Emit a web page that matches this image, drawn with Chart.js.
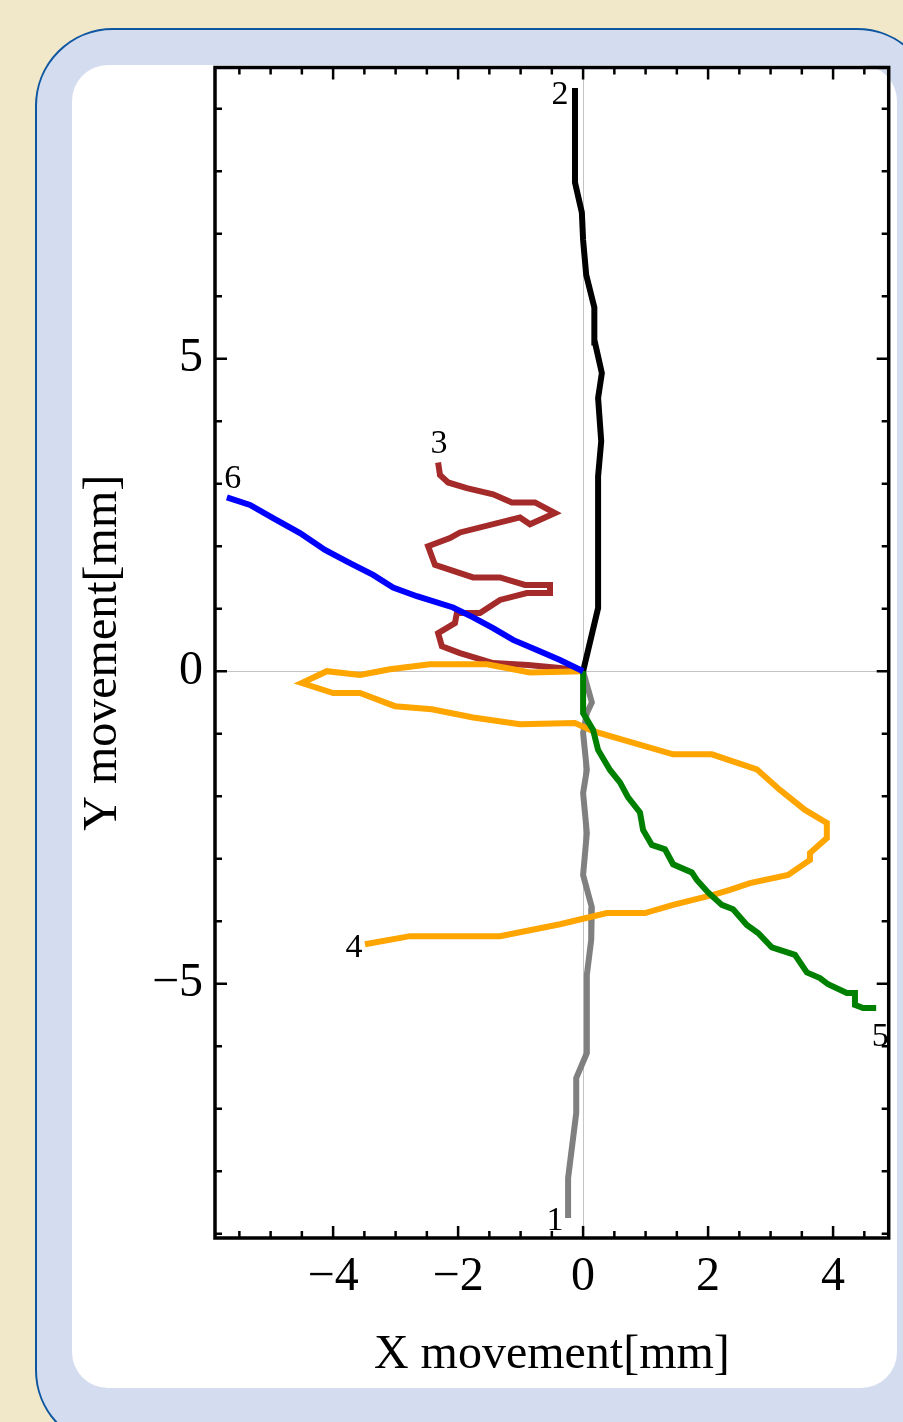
<!DOCTYPE html>
<html>
<head>
<meta charset="utf-8">
<script src="https://cdn.jsdelivr.net/npm/chart.js@4.4.1/dist/chart.umd.min.js"></script>
<style>
    html, body { margin: 0; padding: 0; }
    body { width: 903px; height: 1422px; background: #f1e8c9; position: relative; overflow: hidden; }
    #outer { position: absolute; left: 35px; top: 28px; width: 900px; height: 1420px; box-sizing: border-box;
             border: 2px solid #0e56a0; border-radius: 78px; background: #d4ddef; }
    #inner { position: absolute; left: 72px; top: 65px; width: 825px; height: 1323px; border-radius: 36px; background: #fff; }
    #wrap { position: absolute; left: 0; top: 0; width: 903px; height: 1422px; }
</style>
</head>
<body>
<div id="outer"></div>
<div id="inner"></div>
<div id="wrap"><canvas id="chart"></canvas></div>
<script>
// tick labels
const xTicks = [-4, -2, 0, 2, 4];
const yTicks = [-5, 0, 5];

// track names, drawn at the end of each path
const trackNames = ['1', '2', '3', '4', '5', '6'];

// movement paths [mm], each starts at the origin
const track1X = [0, 0.14, 0.06, 0, 0.06, 0, 0.06, 0, 0.14, 0.13, 0.06, 0.06, -0.11, -0.11, -0.24, -0.24];
const track1Y = [0, -0.50, -0.67, -0.99, -1.58, -1.95, -2.59, -3.26, -3.78, -4.30, -4.86, -6.11, -6.51, -7.07, -8.11, -8.75];

const track2X = [0, 0.24, 0.24, 0.29, 0.24, 0.30, 0.19, 0.18, 0.05, 0.0, -0.02, -0.13, -0.13];
const track2Y = [0, 1.01, 3.12, 3.68, 4.37, 4.77, 5.26, 5.82, 6.34, 6.90, 7.34, 7.82, 9.33];

const track3X = [0, -0.37, -0.88, -1.44, -1.97, -2.26, -2.32, -2.05, -2.02, -1.65, -1.33, -0.90, -0.53, -0.53, -0.93, -1.33,
                 -1.76, -2.37, -2.48, -2.13, -1.97, -1.01, -0.85, -0.45, -0.77, -1.14, -1.44, -1.86, -2.16, -2.29, -2.32];
const track3Y = [0, 0.05, 0.10, 0.13, 0.29, 0.40, 0.61, 0.77, 0.93, 0.93, 1.14, 1.25, 1.25, 1.38, 1.38, 1.50,
                 1.50, 1.70, 2.00, 2.13, 2.22, 2.46, 2.35, 2.53, 2.70, 2.70, 2.83, 2.93, 3.02, 3.14, 3.34];

const track4X = [0, -0.85, -1.54, -2.45, -3.09, -3.57, -4.10, -4.50, -4.00, -3.57, -3.01, -2.42, -1.76, -1.01, -0.13, 0.16,
                 0.64, 1.44, 2.06, 2.78, 3.15, 3.55, 3.90, 3.90, 3.63, 3.63, 3.28, 2.67, 2.35, 2.08, 1.44, 0.99,
                 0.38, -0.37, -1.33, -2.77, -3.49];
const track4Y = [0, -0.02, 0.11, 0.11, 0.03, -0.06, 0.0, -0.19, -0.35, -0.35, -0.56, -0.61, -0.74, -0.85, -0.83, -0.96,
                 -1.10, -1.33, -1.33, -1.57, -1.90, -2.22, -2.43, -2.67, -2.91, -3.02, -3.26, -3.39, -3.50, -3.58, -3.74, -3.87,
                 -3.87, -4.05, -4.24, -4.24, -4.37];

const track5X = [0, 0, 0.16, 0.24, 0.43, 0.59, 0.72, 0.91, 0.96, 1.10, 1.31, 1.44, 1.74, 1.82, 2.00, 2.22,
                 2.40, 2.62, 2.80, 3.02, 3.39, 3.58, 3.79, 3.92, 4.22, 4.35, 4.35, 4.48, 4.69];
const track5Y = [0, -0.67, -0.94, -1.26, -1.58, -1.78, -2.02, -2.26, -2.54, -2.78, -2.85, -3.09, -3.22, -3.34, -3.54, -3.74,
                 -3.81, -4.06, -4.19, -4.42, -4.54, -4.82, -4.91, -5.01, -5.15, -5.15, -5.34, -5.39, -5.39];

const track6X = [0, -0.37, -0.74, -1.12, -1.44, -1.76, -2.08, -2.66, -3.04, -3.36, -3.73, -4.13, -4.53, -4.96, -5.33, -5.70];
const track6Y = [0, 0.18, 0.34, 0.50, 0.69, 0.86, 1.02, 1.20, 1.34, 1.54, 1.73, 1.94, 2.21, 2.45, 2.66, 2.78];

const trackXs = [track1X, track2X, track3X, track4X, track5X, track6X];
const trackYs = [track1Y, track2Y, track3Y, track4Y, track5Y, track6Y];
const trackColors = ['#808080', '#000000', '#a52a2a', '#ffa500', '#008000', '#0000ff'];
// where the track number sits, in pixels from the last point
const nameOffsets = [[-13, 12], [-15, 16], [1, -9], [-11, 13], [4, 38], [6, -9]];

const serif = '"Liberation Serif", "Times New Roman", serif';

function fmt(v) {
    return v < 0 ? '\u2212' + Math.abs(v) : String(v);
}

const datasets = trackNames.map((name, i) => ({
    label: name,
    data: trackXs[i].map((x, j) => ({ x: x, y: trackYs[i][j] })),
    borderColor: trackColors[i],
    backgroundColor: trackColors[i],
    borderWidth: 6,
    pointRadius: 0,
    showLine: true,
    tension: 0,
    order: trackNames.length - i   // last track on top
}));

// frame with inward ticks on all four sides, plus the track numbers
const framePlugin = {
    id: 'frame',
    afterDatasetsDraw(chart) {
        const ctx = chart.ctx;
        const xs = chart.scales.x, ys = chart.scales.y;
        const a = chart.chartArea;
        ctx.save();

        ctx.font = '34px ' + serif;
        ctx.fillStyle = '#000';
        ctx.textAlign = 'center';
        ctx.textBaseline = 'alphabetic';
        chart.data.datasets.forEach((ds, i) => {
            const last = ds.data[ds.data.length - 1];
            const off = nameOffsets[i];
            ctx.fillText(ds.label, xs.getPixelForValue(last.x) + off[0], ys.getPixelForValue(last.y) + off[1]);
        });

        ctx.strokeStyle = '#000';
        ctx.lineWidth = 2.5;
        ctx.beginPath();
        for (let v = -5.5; v <= 4.5; v += 0.5) {
            const px = xs.getPixelForValue(v);
            const len = (v % 2 === 0) ? 12 : 7;
            ctx.moveTo(px, a.top); ctx.lineTo(px, a.top + len);
            ctx.moveTo(px, a.bottom); ctx.lineTo(px, a.bottom - len);
        }
        for (let v = -9; v <= 9; v += 1) {
            const py = ys.getPixelForValue(v);
            const len = (v % 5 === 0) ? 12 : 7;
            ctx.moveTo(a.left, py); ctx.lineTo(a.left + len, py);
            ctx.moveTo(a.right, py); ctx.lineTo(a.right - len, py);
        }
        ctx.stroke();

        ctx.lineWidth = 3.5;
        ctx.strokeRect(a.left, a.top, a.right - a.left, a.bottom - a.top);
        ctx.restore();
    }
};

const zeroLine = c => (c.tick && c.tick.value === 0) ? '#c4c4c4' : 'rgba(0,0,0,0)';

new Chart(document.getElementById('chart'), {
    type: 'scatter',
    data: { datasets: datasets },
    options: {
        responsive: true,
        maintainAspectRatio: false,
        animation: false,
        layout: { padding: { left: 72, top: 67.5, right: 14.3, bottom: 34 } },
        plugins: {
            legend: { display: false },
            tooltip: { enabled: false }
        },
        scales: {
            x: {
                type: 'linear',
                min: -5.89,
                max: 4.89,
                afterBuildTicks: s => { s.ticks = xTicks.map(v => ({ value: v })); },
                afterFit: s => { s.height = 150; },
                ticks: {
                    font: { family: serif, size: 48 },
                    color: '#000',
                    padding: 11,
                    maxRotation: 0,
                    autoSkip: false,
                    callback: v => fmt(v)
                },
                grid: { drawTicks: false, color: zeroLine, lineWidth: 1 },
                border: { display: false },
                title: {
                    display: true,
                    text: 'X movement[mm]',
                    font: { family: serif, size: 48 },
                    color: '#000',
                    padding: { top: 0, bottom: 4 }
                }
            },
            y: {
                type: 'linear',
                min: -9.07,
                max: 9.66,
                afterBuildTicks: s => { s.ticks = yTicks.map(v => ({ value: v })); },
                afterFit: s => { s.width = 143; },
                ticks: {
                    font: { family: serif, size: 48 },
                    color: '#000',
                    padding: 12,
                    autoSkip: false,
                    callback: v => fmt(v)
                },
                grid: { drawTicks: false, color: zeroLine, lineWidth: 1 },
                border: { display: false },
                title: {
                    display: true,
                    text: 'Y movement[mm]',
                    font: { family: serif, size: 48 },
                    color: '#000',
                    padding: { top: 3, bottom: 0 }
                }
            }
        }
    },
    plugins: [framePlugin]
});
</script>
</body>
</html>
